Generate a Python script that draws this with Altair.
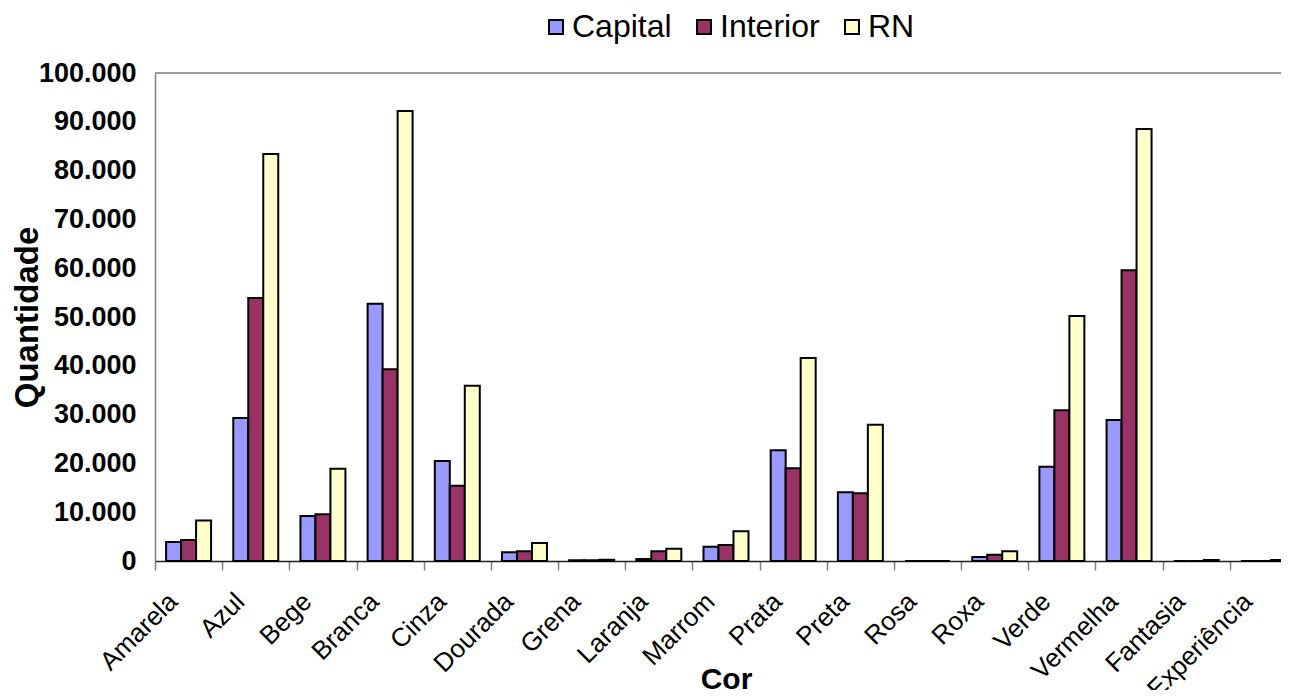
import altair as alt
import pandas as pd

categories = ["Amarela", "Azul", "Bege", "Branca", "Cinza", "Dourada", "Grena", "Laranja",
              "Marrom", "Prata", "Preta", "Rosa", "Roxa", "Verde", "Vermelha", "Fantasia", "Experiência"]
series = ["Capital", "Interior", "RN"]
capital = [3900, 29300, 9200, 52700, 20500, 1800, 150, 400, 2900, 22700, 14100, 0, 800, 19300, 28900, 0, 0]
interior = [4300, 53900, 9600, 39300, 15400, 2000, 150, 2000, 3300, 19000, 13900, 0, 1300, 30900, 59600, 0, 0]
rn = [8300, 83400, 18900, 92200, 35900, 3700, 250, 2500, 6100, 41600, 27900, 0, 2000, 50200, 88500, 200, 200]
colors = ["#9999FF", "#993366", "#FFFFCC"]

rows = []
for name, vals in zip(series, [capital, interior, rn]):
    for c, v in zip(categories, vals):
        rows.append({"Cor": c, "Serie": name, "Valor": v})
df = pd.DataFrame(rows)

FONT = "Liberation Sans"

bars = alt.Chart(df).mark_bar(stroke="black", strokeWidth=2).encode(
    x=alt.X("Cor:N", sort=categories,
            scale=alt.Scale(paddingInner=0, paddingOuter=0),
            axis=alt.Axis(title="Cor", labelAngle=-45, labelFontSize=26, labelFont=FONT,
                          labelColor="black", labelPadding=18, labelOffset=-25,
                          tickBand="extent", tickSize=9, tickColor="#808080", tickWidth=1.5,
                          domainColor="#222222", domainWidth=1.5,
                          titleFont=FONT, titleFontSize=30, titleFontWeight="bold",
                          titleColor="black", titleBaseline="alphabetic", titleY=127)),
    xOffset=alt.XOffset("Serie:N", sort=series,
                        scale=alt.Scale(paddingInner=0, paddingOuter=0.74)),
    y=alt.Y("Valor:Q",
            scale=alt.Scale(domain=[0, 100000], nice=False),
            axis=alt.Axis(title="Quantidade", values=list(range(0, 100001, 10000)),
                          labelExpr="replace(format(datum.value, ','), ',', '.')",
                          labelFont=FONT, labelFontSize=27, labelFontWeight="bold",
                          labelColor="black", labelPadding=19, ticks=False, tickSize=0,
                          grid=False, domainColor="#808080", domainWidth=1.5,
                          titleFont=FONT, titleFontSize=33, titleFontWeight="bold",
                          titleColor="black", titleBaseline="middle", titleX=-128)),
    color=alt.Color("Serie:N", sort=series,
                    scale=alt.Scale(domain=series, range=colors),
                    legend=alt.Legend(title=None, orient="none", direction="horizontal",
                                      legendX=385, legendY=-62, symbolType="square",
                                      symbolSize=196, symbolStrokeColor="black",
                                      symbolStrokeWidth=2, labelFont=FONT, labelFontSize=32,
                                      labelColor="black", labelOffset=0, columnPadding=16,
                                      padding=0)),
)

top_line = alt.Chart(pd.DataFrame({"v": [100000]})).mark_rule(color="#808080", strokeWidth=1.5).encode(
    y=alt.Y("v:Q")
)

chart = alt.layer(bars, top_line).properties(
    width=1142, height=488,
    autosize=alt.AutoSizeParams(type="none"),
    padding={"left": 147, "top": 65, "right": -16, "bottom": 129},
).configure_view(stroke=None).configure(background="white")

chart.save("out.html", embed_options={"renderer": "svg", "actions": False})
